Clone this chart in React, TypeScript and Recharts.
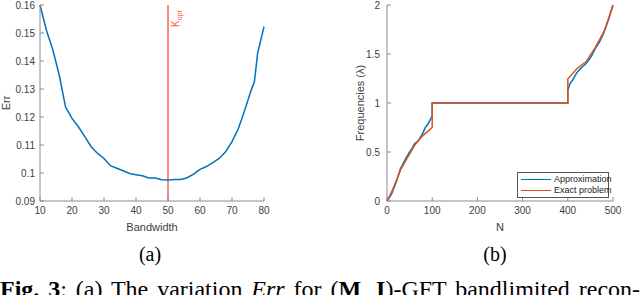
import { LineChart, Line, XAxis, YAxis, ReferenceLine, Legend } from 'recharts';

// (a) reconstruction error vs bandwidth
const bandwidth = [10, 12, 14, 16, 18, 20, 22, 24, 26, 28, 30, 32, 34, 36, 38, 40, 42, 44, 46, 48, 50, 52, 54, 56, 58, 60, 62, 64, 66, 68, 70, 72, 74, 76, 77, 78, 79, 80];
const errValues = [0.16, 0.151, 0.144, 0.135, 0.1235, 0.1195, 0.1165, 0.113, 0.1094, 0.107, 0.1052, 0.1026, 0.1017, 0.1008, 0.0998, 0.0994, 0.099, 0.0982, 0.0982, 0.0976, 0.0975, 0.0977, 0.0977, 0.0983, 0.0996, 0.1013, 0.1023, 0.1037, 0.1052, 0.1076, 0.1112, 0.1159, 0.1225, 0.1296, 0.1326, 0.1427, 0.1475, 0.1523];
const kOpt = 50;
const bwTicks = [10, 20, 30, 40, 50, 60, 70, 80];
const errTicks = [0.09, 0.1, 0.11, 0.12, 0.13, 0.14, 0.15, 0.16];

// (b) frequencies vs N
const approxN = [0, 10, 20, 30, 40, 50, 55, 60, 70, 75, 80, 85, 90, 98, 100, 100, 400, 400, 405, 410, 420, 430, 440, 450, 455, 460, 470, 480, 490, 500];
const approxF = [0, 0.07, 0.19, 0.33, 0.42, 0.5, 0.53, 0.58, 0.62, 0.66, 0.7, 0.75, 0.78, 0.85, 0.87, 1, 1, 1.13, 1.2, 1.23, 1.31, 1.36, 1.4, 1.46, 1.5, 1.55, 1.62, 1.72, 1.85, 2];
const exactN = [0, 10, 20, 30, 40, 50, 60, 70, 80, 90, 100, 100, 400, 400, 420, 440, 460, 480, 490, 500];
const exactF = [0, 0.09, 0.2, 0.32, 0.4, 0.48, 0.56, 0.62, 0.67, 0.71, 0.75, 1, 1, 1.245, 1.35, 1.42, 1.56, 1.73, 1.86, 2];
const nTicks = [0, 100, 200, 300, 400, 500];
const freqTicks = [0, 0.5, 1, 1.5, 2];

const BLUE = '#0072BD';
const ORANGE = '#D95319';
const AXIS = '#8c8c8c';
const TEXT = '#404040';
const tickFont = { fontSize: 10, fill: TEXT, fontFamily: 'Liberation Sans, Arial, sans-serif' };
const labelFont = { fontSize: 11, fill: TEXT, fontFamily: 'Liberation Sans, Arial, sans-serif' };

const errData = bandwidth.map((b, i) => ({ bw: b, err: errValues[i] }));
const approxData = approxN.map((n, i) => ({ n, f: approxF[i] }));
const exactData = exactN.map((n, i) => ({ n, f: exactF[i] }));

const fmt = (v: number) => String(+v.toFixed(2));

const KOptLabel = (props: any) => {
  const { viewBox } = props;
  const x = viewBox.x + 11;
  const y = viewBox.y + 22;
  return (
    <text x={x} y={y} transform={`rotate(-90, ${x}, ${y})`} fill="#ff5050" fontSize={10} fontFamily="Liberation Sans, Arial, sans-serif">
      K<tspan fontSize={7} dy={3}>opt</tspan>
    </text>
  );
};

const legendItems = [{ name: 'Approximation', color: BLUE }, { name: 'Exact problem', color: ORANGE }];

const renderLegend = () => (
  <div style={{ border: '1px solid #555', background: '#fff', fontSize: 9, fontFamily: 'Liberation Sans, Arial, sans-serif', color: '#222', padding: '1px 3px', lineHeight: '11px', whiteSpace: 'nowrap' }}>
    {legendItems.map(e => (
      <div key={e.name} style={{ display: 'flex', alignItems: 'center' }}>
        <span style={{ display: 'inline-block', width: 30, height: 1.5, background: e.color, marginRight: 3, flex: 'none' }} />
        {e.name}
      </div>
    ))}
  </div>
);

export default function App() {
  return (
    <div style={{ position: 'absolute', left: 0, top: 0, width: 640, height: 295, background: '#fff', overflow: 'hidden' }}>
      <div style={{ position: 'absolute', left: 0, top: 0 }}>
        <LineChart width={300} height={238} data={errData} margin={{ top: 5, right: 36, bottom: 0, left: 0 }}>
          <XAxis dataKey="bw" type="number" domain={[10, 80]} ticks={bwTicks} height={37} stroke={AXIS}
            tickSize={-4} tickMargin={10} tick={tickFont}
            label={{ value: 'Bandwidth', position: 'insideBottom', offset: 7, style: labelFont }} />
          <XAxis xAxisId="top" dataKey="bw" type="number" domain={[10, 80]} ticks={bwTicks} orientation="top" height={0} stroke={AXIS} tickSize={-4} tick={false} />
          <YAxis type="number" domain={[0.09, 0.16]} ticks={errTicks} width={40} stroke={AXIS}
            tickSize={-4} tickMargin={9} tick={tickFont} tickFormatter={fmt}
            label={{ value: 'Err', angle: -90, position: 'insideLeft', offset: 6, textAnchor: 'middle', style: labelFont }} />
          <YAxis yAxisId="right" type="number" domain={[0.09, 0.16]} ticks={errTicks} orientation="right" width={0} stroke={AXIS} tickSize={-4} tick={false} />
          <ReferenceLine x={kOpt} stroke="#ff5c5c" strokeWidth={1.5} label={<KOptLabel />} />
          <Line dataKey="err" type="linear" stroke={BLUE} strokeWidth={1.5} dot={false} isAnimationActive={false} />
        </LineChart>
      </div>
      <div style={{ position: 'absolute', left: 320, top: 0 }}>
        <LineChart width={320} height={238} margin={{ top: 5, right: 27, bottom: 0, left: 0 }}>
          <XAxis dataKey="n" type="number" domain={[0, 500]} ticks={nTicks} height={37} stroke={AXIS}
            tickSize={-4} tickMargin={10} tick={tickFont}
            label={{ value: 'N', position: 'insideBottom', offset: 7, style: labelFont }} />
          <XAxis xAxisId="top" dataKey="n" type="number" domain={[0, 500]} ticks={nTicks} orientation="top" height={0} stroke={AXIS} tickSize={-4} tick={false} />
          <YAxis type="number" domain={[0, 2]} ticks={freqTicks} width={67} stroke={AXIS}
            tickSize={-4} tickMargin={11} tick={tickFont} tickFormatter={fmt}
            label={{ value: 'Frequencies (λ)', angle: -90, position: 'insideLeft', offset: 40, textAnchor: 'middle', style: labelFont }} />
          <YAxis yAxisId="right" type="number" domain={[0, 2]} ticks={freqTicks} orientation="right" width={0} stroke={AXIS} tickSize={-4} tick={false} />
          <Line data={approxData} dataKey="f" name="Approximation" type="linear" stroke={BLUE} strokeWidth={1.5} dot={false} isAnimationActive={false} />
          <Line data={exactData} dataKey="f" name="Exact problem" type="linear" stroke={ORANGE} strokeWidth={1.5} dot={false} isAnimationActive={false} />
          <Legend layout="vertical" align="center" verticalAlign="middle" content={renderLegend}
            wrapperStyle={{ left: 197, top: 172, width: 92 }} />
        </LineChart>
      </div>
      <div style={{ position: 'absolute', left: 0, width: 300, top: 244, textAlign: 'center', fontFamily: 'Liberation Serif, serif', fontSize: 20, lineHeight: '20px', color: '#000' }}>(a)</div>
      <div style={{ position: 'absolute', left: 345, width: 300, top: 244, textAlign: 'center', fontFamily: 'Liberation Serif, serif', fontSize: 20, lineHeight: '20px', color: '#000' }}>(b)</div>
      <div style={{ position: 'absolute', left: 0, width: 640, top: 277, fontFamily: 'Liberation Serif, serif', fontSize: 24, lineHeight: '24px', color: '#000', whiteSpace: 'nowrap', textAlign: 'justify', textAlignLast: 'justify' }}>
        <b>Fig. 3</b>: (a) The variation <i>Err</i> for (<b>M</b>, <b>I</b>)-GFT bandlimited recon-
      </div>
    </div>
  );
}
